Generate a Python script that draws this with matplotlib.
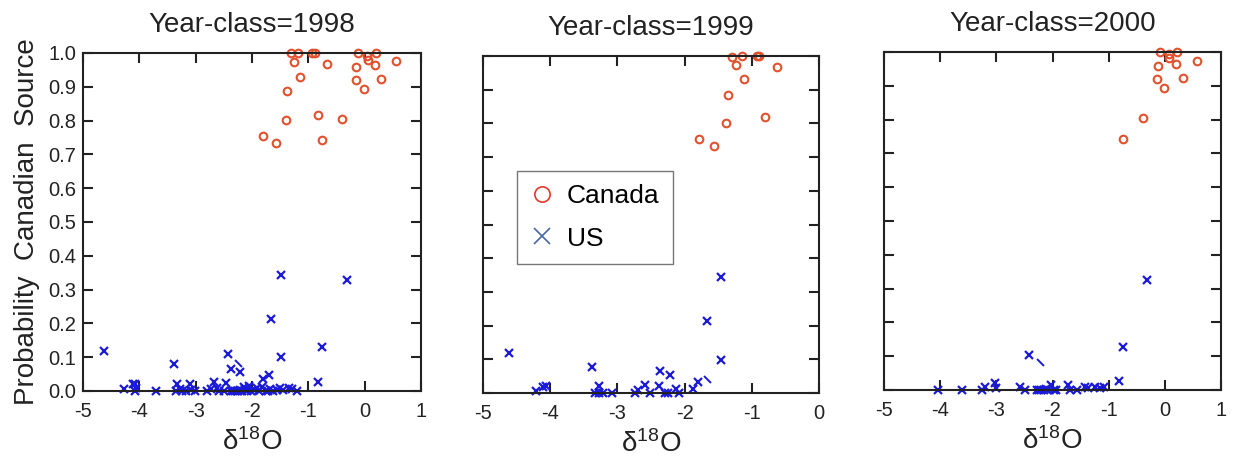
import matplotlib
matplotlib.use("Agg")
import matplotlib.pyplot as plt
from matplotlib.lines import Line2D
from matplotlib.path import Path

plt.rcParams['font.family'] = ['Liberation Sans', 'DejaVu Sans']
plt.rcParams['mathtext.default'] = 'regular'
plt.rcParams['axes.unicode_minus'] = False

# ---------------- data ----------------
years = ["1998", "1999", "2000"]
xlims = [(-5, 1), (-5, 0), (-5, 1)]

# Year-class 1998
can98_x = [-1.31, -1.18, -0.94, -0.89, -1.25, -1.14, -1.37, -1.40, -1.80, -1.58, -0.82, -0.75,
           -0.66, -0.41, -0.11, -0.16, -0.16, -0.02, 0.04, 0.06, 0.18, 0.20, 0.29, 0.55]
can98_y = [1.0, 1.0, 1.0, 1.0, 0.972, 0.930, 0.888, 0.802, 0.755, 0.733, 0.818, 0.742,
           0.966, 0.805, 1.0, 0.958, 0.921, 0.894, 0.990, 0.978, 0.964, 1.0, 0.922, 0.975]
us98_x = [-4.62, -3.38, -2.43, -2.37, -2.21, -1.48, -0.32, -1.66, -0.75, -1.48, -0.83, -1.69, -1.81,
          -4.28, -4.12, -4.08, -4.06, -4.07, -3.70,
          -3.35, -3.33, -3.28, -3.24, -3.18, -3.10, -3.08, -3.02,
          -2.80, -2.72, -2.67, -2.63, -2.58, -2.50, -2.46,
          -2.38, -2.34, -2.30, -2.27, -2.24, -2.21, -2.18, -2.15, -2.12, -2.08, -2.05, -2.01,
          -1.97, -1.92, -1.87, -1.82, -1.76, -1.72, -1.68, -1.62, -1.56, -1.50, -1.45, -1.35,
          -1.29, -1.20]
us98_y = [0.118, 0.080, 0.108, 0.065, 0.055, 0.343, 0.328, 0.214, 0.131, 0.100, 0.027, 0.047, 0.036,
          0.005, 0.020, 0.022, 0.010, 0.0, 0.0,
          0.0, 0.022, 0.005, 0.0, 0.0, 0.022, 0.003, 0.0,
          0.0, 0.005, 0.028, 0.010, 0.0, 0.0, 0.025,
          0.0, 0.0, 0.0, 0.0, 0.0, 0.003, 0.0, 0.012, 0.005, 0.0, 0.015, 0.0,
          0.003, 0.010, 0.0, 0.012, 0.0, 0.0, 0.005, 0.0, 0.003, 0.008, 0.003, 0.010,
          0.007, 0.0]
part98_x = [-2.24]
part98_y = [0.084]

# Year-class 1999
can99_x = [-1.29, -1.15, -0.93, -0.89, -1.23, -0.62, -1.12, -1.35, -0.80, -1.38, -1.79, -1.56]
can99_y = [0.996, 1.0, 1.0, 1.0, 0.974, 0.966, 0.932, 0.885, 0.818, 0.802, 0.755, 0.733]
us99_x = [-4.62, -3.38, -1.46, -1.66, -1.46, -2.37, -2.21, -1.80, -1.87,
          -4.21, -4.10, -4.06, -3.27, -3.33, -3.27, -3.21, -3.08,
          -2.74, -2.69, -2.59, -2.52, -2.38, -2.29, -2.24, -2.13, -2.08]
us99_y = [0.119, 0.077, 0.343, 0.214, 0.098, 0.064, 0.052, 0.033, 0.013,
          0.006, 0.018, 0.020, 0.020, 0.0, 0.0, 0.0, 0.0,
          0.0, 0.008, 0.025, 0.0, 0.021, 0.0, 0.0, 0.013, 0.0]
part99_x = [-1.67]
part99_y = [0.043]

# Year-class 2000
can00_x = [-0.08, 0.07, 0.08, 0.21, -0.13, 0.20, 0.58, -0.14, 0.32, -0.01, -0.38, -0.74]
can00_y = [1.0, 0.995, 0.982, 1.0, 0.958, 0.965, 0.973, 0.920, 0.922, 0.894, 0.805, 0.742]
us00_x = [-0.31, -0.74, -0.81, -2.41,
          -4.04, -3.62, -3.26, -3.20, -3.03, -3.00, -2.58, -2.49,
          -2.28, -2.24, -2.20, -2.16, -2.12, -2.08, -2.02, -1.97, -1.93,
          -1.72, -1.69, -1.57, -1.42, -1.36, -1.24, -1.15, -1.09]
us00_y = [0.326, 0.128, 0.027, 0.104,
          0.0, 0.0, 0.0, 0.010, 0.022, 0.005, 0.010, 0.0,
          0.0, 0.0, 0.0, 0.0, 0.003, 0.0, 0.015, 0.0, 0.0,
          0.015, 0.0, 0.0, 0.008, 0.005, 0.010, 0.005, 0.008]
part00_x = [-2.22]
part00_y = [0.084]

can_x = [can98_x, can99_x, can00_x]
can_y = [can98_y, can99_y, can00_y]
us_x = [us98_x, us99_x, us00_x]
us_y = [us98_y, us99_y, us00_y]
part_x = [part98_x, part99_x, part00_x]
part_y = [part98_y, part99_y, part00_y]

xticks_all = [-5, -4, -3, -2, -1, 0, 1]
yticks = [0.0, 0.1, 0.2, 0.3, 0.4, 0.5, 0.6, 0.7, 0.8, 0.9, 1.0]

# ---------------- figure ----------------
W, H = 1235, 457
fig = plt.figure(figsize=(W / 100, H / 100), dpi=100)
boxes = [(83, 421, 53, 391), (483, 819, 56, 393), (884, 1221, 52, 390)]

red = '#e2512e'
blue = '#1a1ad8'
ink = '#222222'
slash = Path([(-1, 1), (1, -1)], [Path.MOVETO, Path.LINETO])

for i, (l, r, t, b) in enumerate(boxes):
    ax = fig.add_axes([l / W, (H - b) / H, (r - l) / W, (b - t) / H])
    ax.plot(can_x[i], can_y[i], linestyle='none', marker='o', markersize=5.5,
            markerfacecolor='none', markeredgecolor=red, markeredgewidth=1.5, clip_on=False)
    ax.plot(us_x[i], us_y[i], linestyle='none', marker='x', markersize=5.5,
            color=blue, markeredgewidth=1.6, clip_on=False)
    ax.plot(part_x[i], part_y[i], linestyle='none', marker=slash, markersize=5,
            color=blue, markeredgewidth=1.4, clip_on=False)
    lo, hi = xlims[i]
    ax.set_xlim(lo, hi)
    ax.set_ylim(0, 1)
    ax.set_xticks([v for v in xticks_all if lo <= v <= hi])
    ax.set_yticks(yticks)
    ax.tick_params(direction='in', length=7, width=1.5, top=True, right=True,
                   labelsize=14.5, color=ink, labelcolor=ink)
    ax.tick_params(axis='x', pad=8)
    ax.tick_params(axis='y', pad=5)
    if i == 0:
        ax.set_yticklabels([f"{v:.1f}" for v in yticks])
        ax.set_ylabel('Probability  Canadian  Source', fontsize=20, labelpad=6, color=ink)
    else:
        ax.set_yticklabels([])
    for s in ax.spines.values():
        s.set_linewidth(1.5)
        s.set_color(ink)
    ax.set_title(f'Year-class={years[i]}', fontsize=20, pad=15, color=ink)
    ax.set_xlabel('δ$^{18}$O', fontsize=20, labelpad=5, color=ink)
    if i == 1:
        handles = [Line2D([], [], linestyle='none', marker='o', markersize=11,
                          markerfacecolor='none', markeredgecolor='#e03a2a', markeredgewidth=1.2),
                   Line2D([], [], linestyle='none', marker='x', markersize=11,
                          color='#4a66a8', markeredgewidth=1.2)]
        leg = ax.legend(handles, ['Canada', 'US'], loc='upper left',
                        bbox_to_anchor=(0.101, 0.659), fontsize=19, frameon=True,
                        fancybox=False, edgecolor='#555555', borderpad=0.5,
                        handlelength=0.9, handletextpad=0.5, labelspacing=0.7,
                        borderaxespad=0)
        leg.get_frame().set_linewidth(1.0)

fig.savefig('out.png', dpi=100)
